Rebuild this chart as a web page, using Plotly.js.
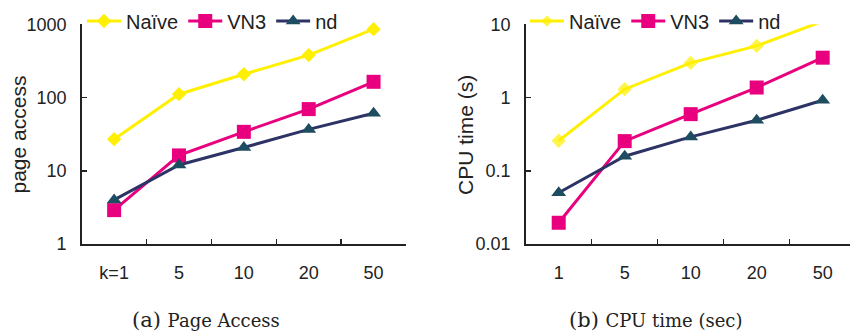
<!DOCTYPE html>
<html><head><meta charset="utf-8">
<script src="https://cdn.plot.ly/plotly-3.0.1.min.js"></script>
<style>html,body{margin:0;padding:0;background:#fff}#chart{width:850px;height:332px}</style>
</head><body><div id="chart"></div>
<script>
// Data
const kLabelsA = ["k=1", "5", "10", "20", "50"];
const kLabelsB = ["1", "5", "10", "20", "50"];
const seriesNames = ["Naïve", "VN3", "nd"];
const pageNaive = [27, 111, 208, 380, 857];
const pageVN3 = [2.9, 16.2, 34, 69.5, 164];
const pageND = [4, 12, 20.8, 36.7, 61];
const cpuNaive = [0.257, 1.3, 2.97, 5.07, 11];
const cpuVN3 = [0.0195, 0.254, 0.593, 1.37, 3.5];
const cpuND = [0.05, 0.158, 0.29, 0.49, 0.92];
const yTicksA = [1, 10, 100, 1000];
const yTicksB = [0.01, 0.1, 1, 10];
const yTitleA = "page access";
const yTitleB = "CPU time (s)";

const W = 850, H = 332;
const colors = ["#FFEF00", "#E8007F", "#2E3366"];
const mcolors = ["#FFEF00", "#E8007F", "#1E4C60"];
const symbols = ["diamond", "square", "triangle-up"];
const msizes = [11, 14, 13];
const font = "Liberation Sans, Arial, sans-serif";

function mk(xs, ys, i, xa, ya, leg, sizes) {
  return {
    x: xs, y: ys, type: "scatter", mode: "lines+markers", name: seriesNames[i],
    xaxis: xa, yaxis: ya, legend: leg, cliponaxis: false,
    line: {color: colors[i], width: 3},
    marker: {symbol: symbols[i], size: sizes || msizes[i], color: mcolors[i], line: {width: 0}}
  };
}
const traces = [
  mk(kLabelsA, pageNaive, 0, "x", "y", "legend"),
  mk(kLabelsA, pageVN3, 1, "x", "y", "legend"),
  mk(kLabelsA, pageND, 2, "x", "y", "legend"),
  mk(kLabelsB, cpuNaive, 0, "x2", "y2", "legend2", [11, 11, 11, 11, 0]),
  mk(kLabelsB, cpuVN3, 1, "x2", "y2", "legend2"),
  mk(kLabelsB, cpuND, 2, "x2", "y2", "legend2")
];

const yDom = [(H - 244) / H, (H - 24.3) / H];
const axCommon = {
  showline: true, linecolor: "#222", linewidth: 1.5, ticks: "inside", ticklen: 5,
  tickcolor: "#222", tickwidth: 1.5, showgrid: false, zeroline: false,
  tickfont: {family: font, size: 18, color: "#222"}, fixedrange: true
};
const xAx = (dom, range) => Object.assign({}, axCommon, {
  type: "category", domain: dom, range: range, tickson: "boundaries", ticklabelstandoff: 12
});
const yAx = (anchor, range, vals) => Object.assign({}, axCommon, {
  type: "log", domain: yDom, range: range, tickvals: vals, ticktext: vals.map(String),
  anchor: anchor, ticklabelstandoff: 10
});
const legendBase = {orientation: "h", xanchor: "left", y: (H - 21) / H, yanchor: "middle",
  font: {family: font, size: 20, color: "#222"}, bgcolor: "rgba(0,0,0,0)", itemwidth: 34, tracegroupgap: 0};

const layout = {
  width: W, height: H, margin: {l: 0, r: 0, t: 0, b: 0},
  paper_bgcolor: "#fff", plot_bgcolor: "#fff", showlegend: true,
  xaxis: xAx([81.7 / W, 406 / W], [-0.5, 4.5]),
  yaxis: yAx("x", [0, 3], yTicksA),
  xaxis2: Object.assign(xAx([525.7 / W, 1], [-0.5, 4.414]), {anchor: "y2"}),
  yaxis2: yAx("x2", [-2, 1], yTicksB),
  legend: Object.assign({}, legendBase, {x: 82 / W}),
  legend2: Object.assign({}, legendBase, {x: 525 / W}),
  annotations: [
    {text: yTitleA, xref: "paper", yref: "paper", x: 18 / W, y: (H - 134.5) / H, textangle: -90,
     xanchor: "center", yanchor: "middle", showarrow: false, font: {family: font, size: 21, color: "#222"}},
    {text: yTitleB, xref: "paper", yref: "paper", x: 466 / W, y: (H - 135) / H, textangle: -90,
     xanchor: "center", yanchor: "middle", showarrow: false, font: {family: font, size: 21, color: "#222"}},
    {text: "(a) <span style='font-size:18px'>Page Access</span>", xref: "paper", yref: "paper",
     x: 206 / W, y: (H - 320) / H, xanchor: "center", yanchor: "middle", showarrow: false,
     font: {family: "DejaVu Serif, serif", size: 21, color: "#222"}},
    {text: "(b) <span style='font-size:18px'>CPU time (sec)</span>", xref: "paper", yref: "paper",
     x: 655 / W, y: (H - 320) / H, xanchor: "center", yanchor: "middle", showarrow: false,
     font: {family: "DejaVu Serif, serif", size: 21, color: "#222"}}
  ]
};
Plotly.newPlot("chart", traces, layout, {staticPlot: true});
</script></body></html>
